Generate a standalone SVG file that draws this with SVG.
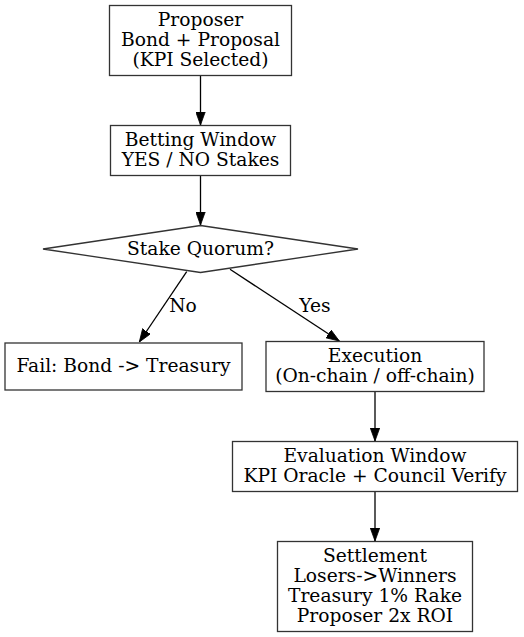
<svg xmlns="http://www.w3.org/2000/svg" width="524" height="637" viewBox="0 0 524 637">
<defs>
<style>
.n{fill:#fff;stroke:#333;stroke-width:1.3}
.t{font-family:"DejaVu Serif",serif;font-size:18.67px;fill:#000;text-anchor:middle}
.e{stroke:#000;stroke-width:1.3;fill:none}
</style>
<marker id="arr" markerWidth="13" markerHeight="10" refX="13" refY="5" orient="auto" markerUnits="userSpaceOnUse" viewBox="0 0 13 10">
<path d="M0,0.3 L13,5 L0,9.7 Z" fill="#000" stroke="#000" stroke-width="0.8"/>
</marker>
</defs>
<rect width="524" height="637" fill="#fff"/>
<g id="edges">
<path class="e" d="M200.5,76 L200.5,125" marker-end="url(#arr)"/>
<path class="e" d="M200.5,176 L200.5,225" marker-end="url(#arr)"/>
<path class="e" d="M186.7,271.7 L139.3,342" marker-end="url(#arr)"/>
<text class="t" x="183" y="312">No</text>
<path class="e" d="M230,269.3 L339.3,341" marker-end="url(#arr)"/>
<text class="t" x="315" y="312">Yes</text>
<path class="e" d="M375,392 L375,441" marker-end="url(#arr)"/>
<path class="e" d="M375,492 L375,541" marker-end="url(#arr)"/>
</g>
<g id="proposer">
<rect class="n" x="109.5" y="5.5" width="182" height="70"/>
<text class="t" x="200.5" y="25.5">Proposer</text>
<text class="t" x="200.5" y="45.5">Bond + Proposal</text>
<text class="t" x="200.5" y="65.5">(KPI Selected)</text>
</g>
<g id="betting">
<rect class="n" x="110.5" y="125.5" width="180" height="50"/>
<text class="t" x="200.5" y="145.5">Betting Window</text>
<text class="t" x="200.5" y="165.5">YES / NO Stakes</text>
</g>
<g id="quorum">
<polygon class="n" points="200.5,225.5 358,249 200.5,272.5 43,249"/>
<text class="t" x="200.5" y="254.5">Stake Quorum?</text>
</g>
<g id="fail">
<rect class="n" x="5" y="343" width="237" height="47"/>
<text class="t" x="123.5" y="372">Fail: Bond -&gt; Treasury</text>
</g>
<g id="execution">
<rect class="n" x="266" y="341.5" width="218" height="50"/>
<text class="t" x="375" y="362">Execution</text>
<text class="t" x="375" y="382">(On-chain / off-chain)</text>
</g>
<g id="evaluation">
<rect class="n" x="232.5" y="441.5" width="285" height="50"/>
<text class="t" x="375" y="462">Evaluation Window</text>
<text class="t" x="375" y="482">KPI Oracle + Council Verify</text>
</g>
<g id="settlement">
<rect class="n" x="277.5" y="541.5" width="195" height="90"/>
<text class="t" x="375" y="562">Settlement</text>
<text class="t" x="375" y="582">Losers-&gt;Winners</text>
<text class="t" x="375" y="602">Treasury 1% Rake</text>
<text class="t" x="375" y="622">Proposer 2x ROI</text>
</g>
</svg>
